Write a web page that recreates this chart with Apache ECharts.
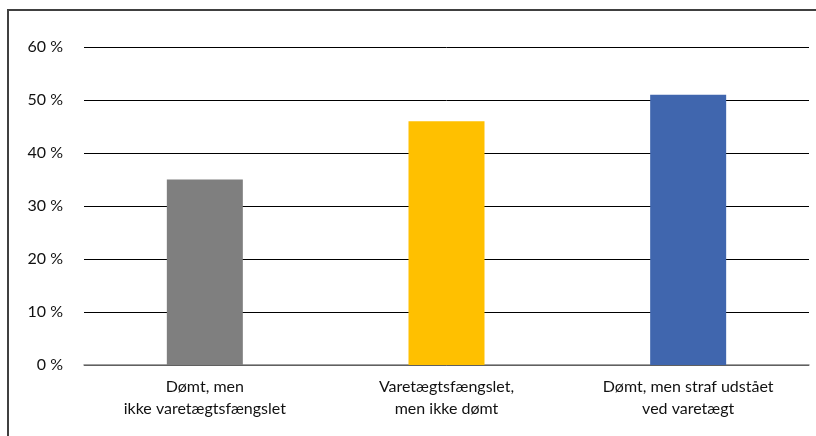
<!DOCTYPE html>
<html>
<head>
<meta charset="utf-8">
<script src="https://cdn.jsdelivr.net/npm/echarts@6/dist/echarts.min.js"></script>
<style>
  html, body { margin: 0; padding: 0; background: #fff; }
  #chart { width: 816px; height: 436px; }
</style>
</head>
<body>
<div id="chart"></div>
<script>
// kategorier og værdier (procent)
var categories = [
  "Dømt, men\nikke varetægtsfængslet",
  "Varetægtsfængslet,\nmen ikke dømt",
  "Dømt, men straf udstået\nved varetægt"
];
var values = [35, 46, 51];
var barColors = ["#7f7f7f", "#ffc000", "#4066ae"];
var yTicks = [0, 10, 20, 30, 40, 50, 60];

var myChart = echarts.init(document.getElementById("chart"));
var options = {
  animation: false,
  // ramme: kun top og venstre kant er synlig
  graphic: [
    {
      type: "polyline",
      shape: { points: [[8, 436], [8, 10], [816, 10]] },
      style: { stroke: "#404040", lineWidth: 2, fill: null }
    }
  ],
  grid: {
    left: 84,
    right: 7,
    top: 47,
    bottom: 71
  },
  xAxis: {
    type: "category",
    data: categories,
    axisTick: { show: false },
    axisLine: { lineStyle: { color: "#808080", width: 1.5 } },
    axisLabel: {
      color: "#111",
      fontFamily: "Lato",
      fontSize: 16,
      lineHeight: 22,
      margin: 11,
      interval: 0
    }
  },
  yAxis: {
    type: "value",
    min: yTicks[0],
    max: yTicks[yTicks.length - 1],
    interval: 10,
    axisLine: { show: false },
    axisTick: { show: false },
    splitLine: { lineStyle: { color: "#000", width: 1 } },
    axisLabel: {
      color: "#111",
      fontFamily: "Lato",
      fontSize: 16,
      margin: 21,
      formatter: function (v) { return v + " %"; }
    }
  },
  series: [
    {
      type: "bar",
      barWidth: 76,
      data: values.map(function (v, i) {
        return { value: v, itemStyle: { color: barColors[i] } };
      })
    }
  ]
};
myChart.setOption(options);
</script>
</body>
</html>
